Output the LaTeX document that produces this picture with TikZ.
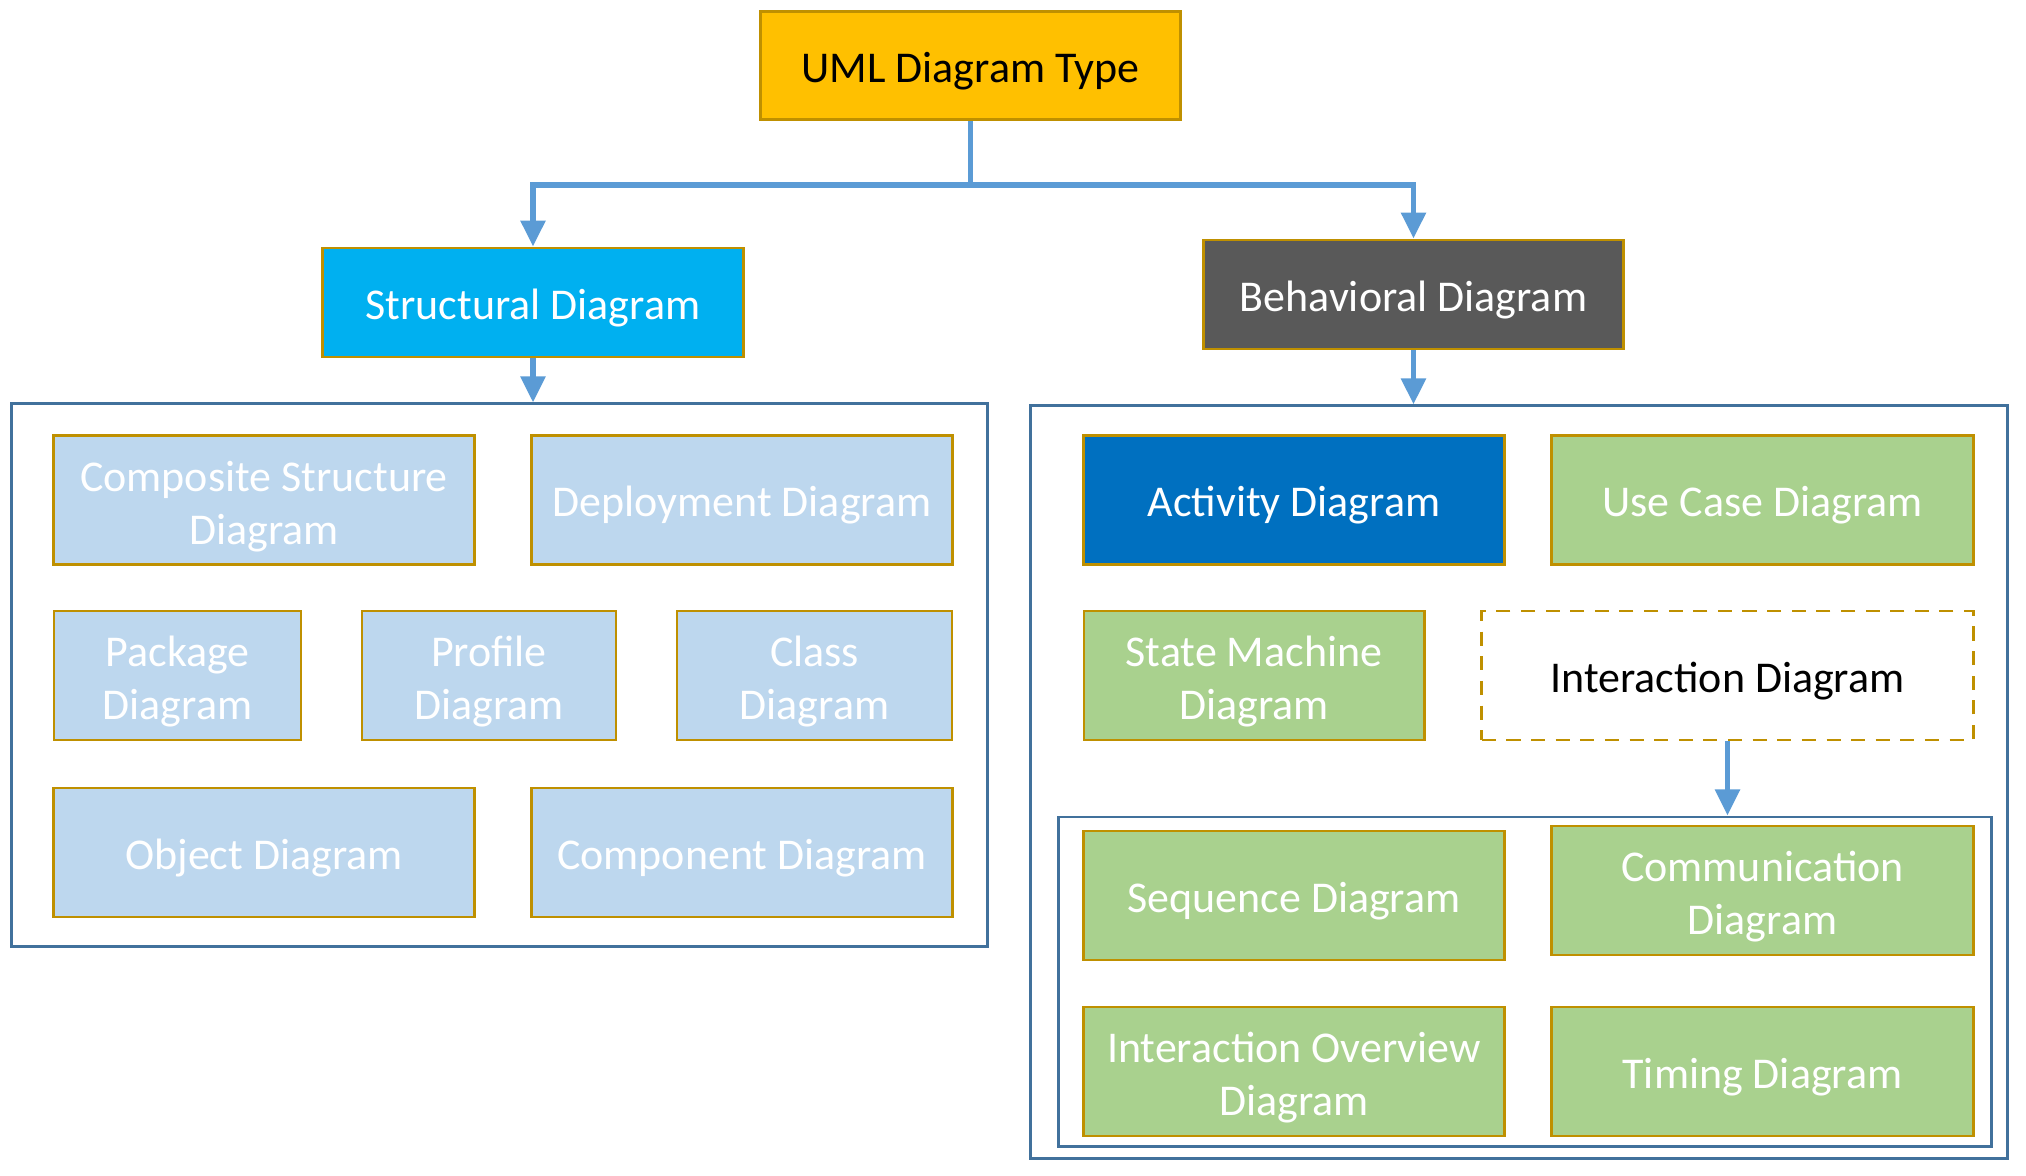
\documentclass[tikz,border=0pt]{standalone}
\usepackage{fontspec}
\setmainfont{Carlito}
\usepackage{xcolor}
\usetikzlibrary{arrows.meta}

\definecolor{umlgold}{HTML}{FFC000}
\definecolor{goldline}{HTML}{BF9000}
\definecolor{structblue}{HTML}{00B0F0}
\definecolor{behavgray}{HTML}{595959}
\definecolor{paleblue}{HTML}{BDD7EE}
\definecolor{actblue}{HTML}{0070C0}
\definecolor{leafgreen}{HTML}{A9D18E}
\definecolor{frameblue}{HTML}{41719C}
\definecolor{linkblue}{HTML}{5B9BD5}

\tikzset{
    diag/.style={draw=goldline, line width=0.8pt, inner sep=2pt, align=center,
        minimum height=1.29cm, text=white, font=\fontsize{12.5}{15}\selectfont,
        execute at begin node={\rule{0pt}{11.6pt}}},
    twoline/.style={execute at begin node={\rule{0pt}{27.2pt}}},
    structleaf/.style={diag, fill=paleblue},
    behavleaf/.style={diag, fill=leafgreen},
    frame/.style={draw=frameblue, line width=0.8pt, inner sep=0pt},
    link/.style={draw=linkblue, line width=1.6pt, >={Triangle[length=2.6mm,width=2.4mm]}}
}

\begin{document}
\begin{tikzpicture}[x=0.01cm, y=-0.01cm]
    \useasboundingbox (0,0) rectangle (2026,1175);

    % top levels
    \node[diag, fill=umlgold, text=black, minimum width=4.2cm, minimum height=1.08cm] (uml) at (970.5,65.5) {UML Diagram Type};
    \node[diag, fill=structblue, minimum width=4.2cm, minimum height=1.09cm] (struct) at (533,302.5) {Structural Diagram};
    \node[diag, fill=behavgray, minimum width=4.19cm, minimum height=1.09cm] (behav) at (1413.5,294.5) {Behavioral Diagram};

    % frames
    \node[frame, minimum width=9.75cm, minimum height=5.42cm] (structframe) at (499.5,675) {};
    \node[frame, minimum width=9.76cm, minimum height=7.52cm] (behavframe) at (1519,782) {};
    \node[frame, minimum width=9.32cm, minimum height=3.29cm] (interframe) at (1525,981.5) {};

    % structural diagrams
    \node[structleaf, twoline, minimum width=4.2cm] (composite) at (264,500) {Composite Structure\\Diagram};
    \node[structleaf, minimum width=4.2cm] (deploy) at (742,500) {Deployment Diagram};
    \node[structleaf, twoline, minimum width=2.47cm] (package) at (177.5,675.5) {Package\\Diagram};
    \node[structleaf, twoline, minimum width=2.54cm] (profile) at (489,675.5) {Profile\\Diagram};
    \node[structleaf, twoline, minimum width=2.75cm] (class) at (814.5,675.5) {Class\\Diagram};
    \node[structleaf, minimum width=4.2cm] (object) at (264,852.5) {Object Diagram};
    \node[structleaf, minimum width=4.2cm] (component) at (742,852.5) {Component Diagram};

    % behavioral diagrams
    \node[diag, fill=actblue, minimum width=4.2cm] (activity) at (1294,500) {Activity Diagram};
    \node[behavleaf, minimum width=4.21cm] (usecase) at (1762.5,500) {Use Case Diagram};
    \node[behavleaf, twoline, minimum width=3.4cm] (statemach) at (1254,675.5) {State Machine\\Diagram};
    \node[diag, fill=white, text=black, dash pattern=on 4pt off 3pt, minimum width=4.91cm] (interact) at (1727.5,675.5) {Interaction Diagram};

    % interaction diagrams
    \node[behavleaf, minimum width=4.2cm] (sequence) at (1294,895.5) {Sequence Diagram};
    \node[behavleaf, twoline, minimum width=4.21cm] (commun) at (1762.5,890.5) {Communication\\Diagram};
    \node[behavleaf, twoline, minimum width=4.2cm] (overview) at (1294,1071.5) {Interaction Overview\\Diagram};
    \node[behavleaf, minimum width=4.21cm] (timing) at (1762.5,1071.5) {Timing Diagram};

    % connectors
    \draw[link] (uml.south) -- ++(0,64) coordinate (fork);
    \draw[link, ->] (fork) -| (struct.north);
    \draw[link, ->] (fork) -| (behav.north);
    \draw[link, ->] (struct.south) -- (struct.south |- structframe.north);
    \draw[link, ->] (behav.south) -- (behav.south |- behavframe.north);
    \draw[link, ->] (interact.south) -- (interact.south |- interframe.north);
\end{tikzpicture}
\end{document}
